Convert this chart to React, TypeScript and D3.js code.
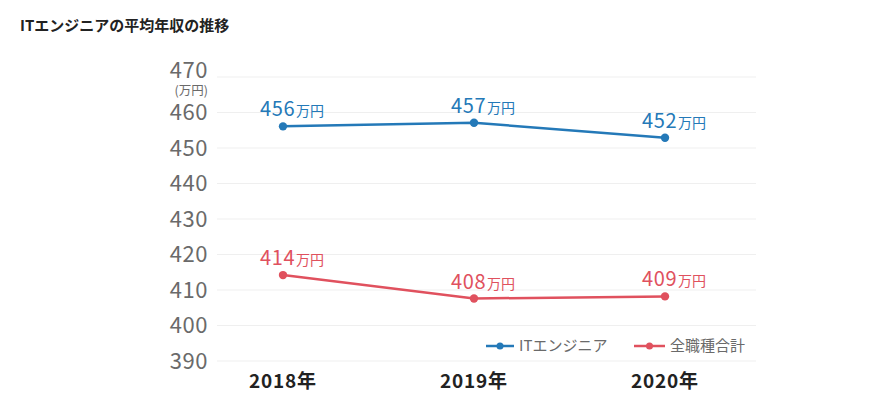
import React from "react";
import * as d3 from "d3";

const years = ["2018年", "2019年", "2020年"];
const yTicks = [390, 400, 410, 420, 430, 440, 450, 460, 470];
const itValues = [456.1, 457.1, 452.9];
const itLabels = ["456", "457", "452"];
const allValues = [414.2, 407.6, 408.2];
const allLabels = ["414", "408", "409"];
const seriesNames = ["ITエンジニア", "全職種合計"];
const title = "ITエンジニアの平均年収の推移";
const unit = "万円";

const BLUE = "#2479b8";
const RED = "#e0515e";
const FONT = "'Noto Sans CJK JP', 'Noto Sans', sans-serif";

export default function App() {
  const W = 891, H = 400;
  const x = d3.scalePoint<string>().domain(years).range([283, 665]);
  const y = d3.scaleLinear().domain([390, 470]).range([361, 77]);
  const gridX0 = 217, gridX1 = 756;
  const line = d3.line<number>().x((_, i) => x(years[i])!).y((v) => y(v));

  const series = [
    { name: seriesNames[0], values: itValues, labels: itLabels, color: BLUE },
    { name: seriesNames[1], values: allValues, labels: allLabels, color: RED },
  ];

  const legend = [
    { x0: 486, x1: 514, tx: 519, name: seriesNames[0], color: BLUE },
    { x0: 634, x1: 665, tx: 670, name: seriesNames[1], color: RED },
  ];

  return (
    <svg width={W} height={H} style={{ position: "absolute", left: 0, top: 0, background: "#fff" }} fontFamily={FONT}>
      <text x={20} y={31} fontSize={15} fontWeight={700} fill="#222">{title}</text>
      {yTicks.map((t) => (
        <line key={"g" + t} x1={gridX0} x2={gridX1} y1={y(t)} y2={y(t)} stroke="#efefef" strokeWidth={1} />
      ))}
      {yTicks.map((t) => (
        <text key={"t" + t} x={208} y={t === 470 ? 78 : y(t)} dy={t === 470 ? 0 : "0.36em"} textAnchor="end" fontSize={22} letterSpacing={0.5} fill="#6a6a6a">{t}</text>
      ))}
      <text x={208} y={95} textAnchor="end" fontSize={12.5} fill="#6a6a6a">(万円)</text>
      {years.map((yr) => (
        <text key={yr} x={x(yr)!} y={388} textAnchor="middle" fontSize={19} fontWeight={700} letterSpacing={0.8} fill="#222">{yr}</text>
      ))}
      {series.map((s) => (
        <g key={s.name}>
          <path d={line(s.values)!} fill="none" stroke={s.color} strokeWidth={2.5} />
          {s.values.map((v, i) => (
            <circle key={i} cx={x(years[i])!} cy={y(v)} r={4.2} fill={s.color} />
          ))}
          {s.values.map((v, i) => (
            <text key={"l" + i} x={x(years[i])! - 23} y={y(v) - 10} fontSize={20} letterSpacing={0.6} fill={s.color}>
              {s.labels[i]}
              <tspan fontSize={14} dx={1} letterSpacing={0}>{unit}</tspan>
            </text>
          ))}
        </g>
      ))}
      {legend.map((l) => (
        <g key={l.name}>
          <line x1={l.x0} x2={l.x1} y1={346} y2={346} stroke={l.color} strokeWidth={2.5} />
          <circle cx={(l.x0 + l.x1) / 2} cy={346} r={3.5} fill={l.color} />
          <text x={l.tx} y={346} dy="0.36em" fontSize={15} fill="#6a6a6a">{l.name}</text>
        </g>
      ))}
    </svg>
  );
}
